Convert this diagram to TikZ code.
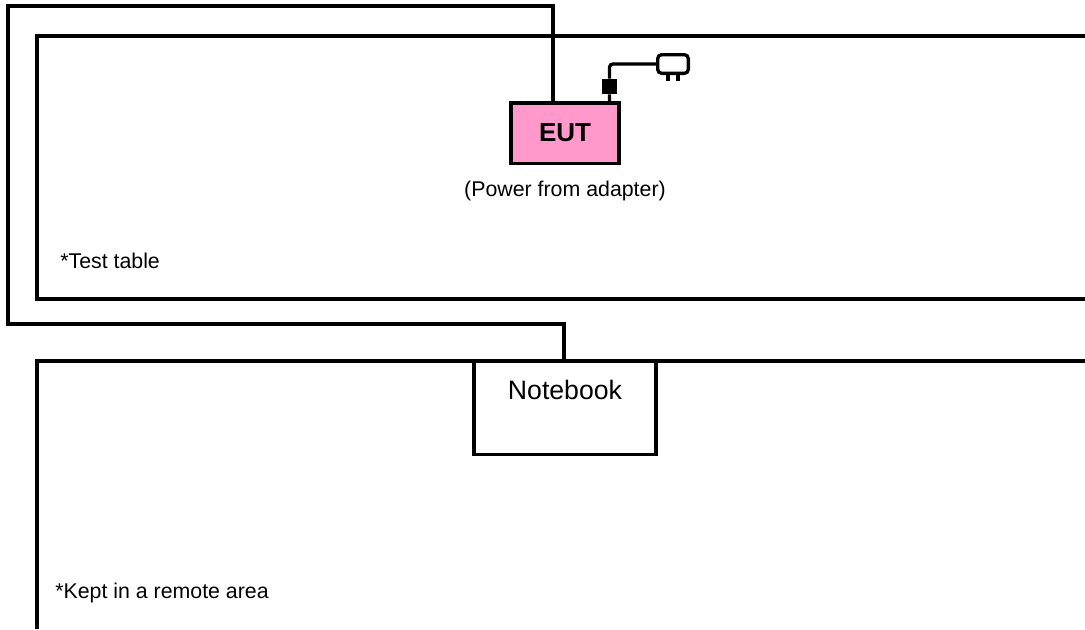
\documentclass[tikz,border=0pt]{standalone}
\usepackage{fontspec}
\setmainfont{Liberation Sans}
\usetikzlibrary{positioning}
\definecolor{eutpink}{RGB}{255,153,204}
\tikzstyle{wire} = [line width=2.6pt, line join=miter]
\tikzstyle{device} = [rectangle, draw=black, line width=2.6pt, inner sep=0pt, outer sep=0pt, text=black]
\tikzstyle{eut} = [device, fill=eutpink, minimum width=81pt, text height=29pt, text depth=16.5pt, font=\fontsize{19.5}{22}\selectfont\bfseries]
\tikzstyle{notebook} = [device, fill=white, minimum width=136.5pt, text height=29pt, text depth=41pt, font=\fontsize{20}{22}\selectfont]
\tikzstyle{caption} = [inner sep=0pt, font=\fontsize{16}{19}\selectfont]
\tikzstyle{ferrite} = [rectangle, fill=black, inner sep=0pt, minimum width=11.5pt, minimum height=11.5pt]
\tikzstyle{adapter} = [rectangle, rounded corners=3pt, draw=black, line width=2.5pt, fill=white, inner sep=0pt, outer sep=0pt, minimum width=23pt, minimum height=14pt]

\begin{document}
\begin{tikzpicture}[x=0.75pt, y=-0.75pt]
    \useasboundingbox (0,0) rectangle (1085,629);
    \draw [wire] (1085,36) -- (37,36) -- (37,299) -- (1085,299);
    \draw [wire] (1085,361) -- (37,361) -- (37,629);
    \node (eut) [eut, anchor=north west] at (511,103) {EUT};
    \node (power) [caption, below=12.5pt of eut] {(Power from adapter)};
    \node (test) [caption, anchor=west] at (60,261) {*Test table};
    \node (book) [notebook, anchor=north] at (565,361) {Notebook};
    \node (remote) [caption, anchor=west] at (55,592.5) {*Kept in a remote area};
    \node (core) [ferrite] at (609.5,86.5) {};
    \node (plug) [adapter] at (673,64) {};
    \coordinate (corner1) at (553,6);
    \coordinate (corner2) at (8,6);
    \coordinate (corner3) at (8,324);
    \coordinate (corner4) at (564,324);
    \draw [wire] (eut.north -| corner1) -- (corner1) -- (corner2) -- (corner3) -- (corner4) -- (book.north -| corner4);
    \draw [line width=2.5pt, rounded corners=2.5pt] (eut.north -| core) -- (core) |- (plug.west);
    \draw [line width=2.6pt] ([xshift=-3.8pt]plug.south) -- ++(0,-5.5pt);
    \draw [line width=2.6pt] ([xshift=3.8pt]plug.south) -- ++(0,-5.5pt);
\end{tikzpicture}
\end{document}
